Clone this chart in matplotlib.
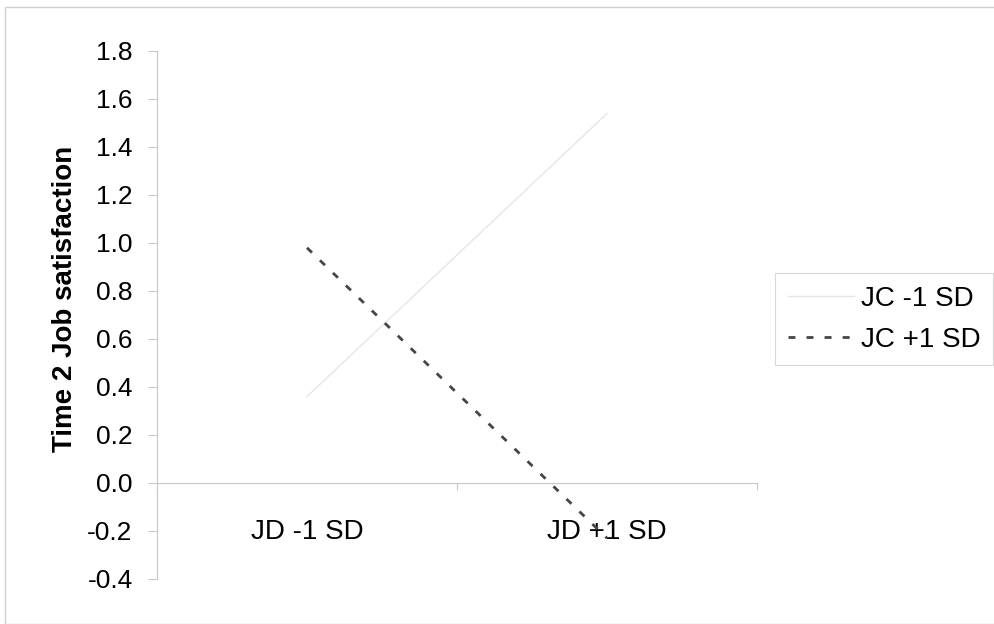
import matplotlib.pyplot as plt
import numpy as np
from matplotlib.patches import Rectangle

plt.rcParams["font.family"] = ["Liberation Sans", "DejaVu Sans"]

categories = ["JD -1 SD", "JD +1 SD"]
jc_low = [0.36, 1.54]
jc_high = [0.98, -0.23]
series_labels = ["JC -1 SD", "JC +1 SD"]

x = np.arange(len(categories))

fig = plt.figure(figsize=(9.94, 6.24), dpi=100)
fig.patches.append(
    Rectangle((0.005, 0.0), 1.2, 0.988, transform=fig.transFigure,
              fill=False, edgecolor="#cfcfcf", linewidth=1)
)
ax = fig.add_axes([157 / 994, 1 - 579 / 624, (757 - 157) / 994, (579 - 51) / 624])

ax.plot(x, jc_low, color="#e6e6e6", linewidth=1, label=series_labels[0])
ax.plot(x, jc_high, color="#454545", linewidth=2, linestyle=(0, (2.5, 4)),
        label=series_labels[1])

ax.set_xlim(-0.5, 1.5)
ax.set_ylim(-0.4, 1.8)
yt = np.arange(-0.4, 1.81, 0.2)
ax.set_yticks(yt)
ax.set_yticklabels([f"{v:.1f}" for v in yt], fontsize=19)

ax.spines["top"].set_visible(False)
ax.spines["right"].set_visible(False)
ax.spines["bottom"].set_position(("data", 0))
for s in ["left", "bottom"]:
    ax.spines[s].set_color("#c8c8c8")
    ax.spines[s].set_linewidth(0.8)

ax.set_xticks([-0.5, 0.5, 1.5])
ax.set_xticks(x, minor=True)
ax.set_xticklabels(["", "", ""])
ax.set_xticklabels(categories, minor=True, fontsize=20)
ax.tick_params(axis="x", which="major", length=5, direction="out", color="#c8c8c8")
ax.tick_params(axis="x", which="minor", length=0, pad=26)
ax.tick_params(axis="y", length=6.5, direction="out", color="#c8c8c8", pad=11)

ax.set_ylabel("Time 2 Job satisfaction", fontsize=20, fontweight="bold")
ax.yaxis.set_label_coords(-0.132, 0.53)

leg = ax.legend(loc="upper left", bbox_to_anchor=(775 / 994, 1 - 273 / 624),
                bbox_transform=fig.transFigure, fontsize=20, frameon=True,
                fancybox=False, handlelength=2.4, handletextpad=0.25,
                borderpad=0.45, borderaxespad=0, labelspacing=0.55)
leg.get_frame().set_edgecolor("#cfcfcf")
leg.get_frame().set_linewidth(0.8)

fig.savefig("out.png", dpi=100)
